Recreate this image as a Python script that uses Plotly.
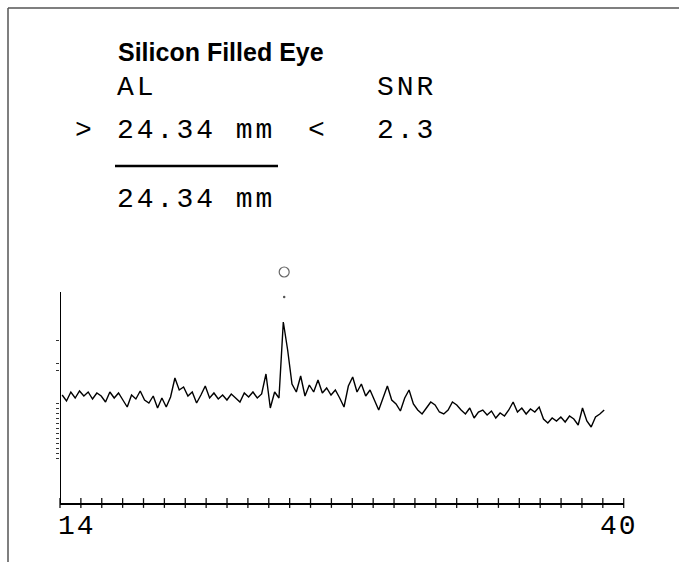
import numpy as np
import plotly.graph_objects as go

# ---------------- data ----------------
X_START = 14.1          # mm, first sample of the A-scan trace
X_STEP = 0.2            # mm, sample spacing
SIGNAL = [108, 102, 111, 105, 112, 107, 111, 104, 110, 107,
          101, 111, 105, 110, 103, 96, 108, 104, 112, 103,
          100, 107, 95, 105, 96, 106, 125, 113, 116, 107,
          111, 100, 108, 117, 105, 110, 104, 108, 103, 109,
          105, 101, 110, 106, 111, 105, 109, 129, 95, 111,
          105, 181, 153, 119, 111, 127, 107, 118, 111, 123,
          110, 115, 108, 113, 105, 96, 117, 126, 111, 119,
          107, 113, 103, 93, 105, 117, 103, 99, 92, 105,
          113, 99, 93, 89, 95, 101, 98, 91, 89, 93,
          101, 98, 93, 89, 95, 85, 91, 93, 88, 92,
          85, 90, 87, 93, 101, 91, 95, 89, 94, 91,
          96, 84, 80, 85, 82, 86, 81, 87, 84, 78,
          95, 82, 76, 86, 89, 93]
X_SAMPLES = np.round(X_START + X_STEP * np.arange(len(SIGNAL)), 2)

X_MIN, X_MAX = 14, 40          # axis range (mm)
Y_MIN, Y_AXIS_TOP = 0, 211     # amplitude axis extent
Y_VIEW_TOP = 245               # room above the axis for the peak marker
X_TICK_COUNT = 28              # printed tick marks along the mm axis
X_TICKS = np.linspace(X_MIN, X_MAX, X_TICK_COUNT)
X_TICK_LABELS = ["14", "40"]
Y_TICKS = [45, 50, 55, 60, 65, 70, 75, 80, 85, 90, 95, 100, 133, 140, 163]

PEAK_AL = [24.34]              # detected axial length peak marker
PEAK_MARK_Y = [231]
PEAK_DOT_Y = [206]

TITLE = "Silicon Filled Eye"
LBL_AL, LBL_SNR = "AL", "SNR"
AL_VALUE, SNR_VALUE = "24.34 mm", "2.3"
AL_RESULT = "24.34 mm"

# ---------------- figure ----------------
W, H = 679, 562
def px(x):
    return x / W
def py(y):
    return 1 - y / H

MONO = "Liberation Mono"
def spaced(t, s=3):
    return f'<span style="letter-spacing:{s}px">{t}</span>'

fig = go.Figure()

fig.add_trace(go.Scatter(
    x=X_SAMPLES, y=SIGNAL, mode="lines",
    line=dict(color="#000000", width=1.4),
    hoverinfo="skip", showlegend=False))

# tick marks crossing the mm axis
fig.add_trace(go.Scatter(
    x=X_TICKS, y=[Y_MIN] * len(X_TICKS), mode="markers",
    marker=dict(symbol="line-ns", size=7, color="#111111",
                line=dict(color="#111111", width=1.3)),
    cliponaxis=False, hoverinfo="skip", showlegend=False))

# peak marker (circle + dot)
fig.add_trace(go.Scatter(
    x=PEAK_AL, y=PEAK_MARK_Y, mode="markers",
    marker=dict(symbol="circle-open", size=10, color="#666666",
                line=dict(color="#666666", width=1.2)),
    cliponaxis=False, hoverinfo="skip", showlegend=False))
fig.add_trace(go.Scatter(
    x=PEAK_AL, y=PEAK_DOT_Y, mode="markers",
    marker=dict(symbol="circle", size=2.5, color="#555555"),
    cliponaxis=False, hoverinfo="skip", showlegend=False))

y_px_per_unit = (503 - 292) / (Y_AXIS_TOP - Y_MIN)
y_view_top_px = 503 - (Y_VIEW_TOP - Y_MIN) * y_px_per_unit

fig.update_layout(
    width=W, height=H,
    margin=dict(l=0, r=0, t=0, b=0),
    paper_bgcolor="white", plot_bgcolor="white",
    xaxis=dict(domain=[px(60), px(623.7)], range=[X_MIN, X_MAX],
               showline=True, linecolor="#000000", linewidth=1.5,
               showgrid=False, zeroline=False, showticklabels=False,
               ticks=""),
    yaxis=dict(domain=[py(503), py(y_view_top_px)], range=[Y_MIN, Y_VIEW_TOP],
               showline=False, showgrid=False, zeroline=False,
               showticklabels=False,
               tickmode="array", tickvals=Y_TICKS, ticks="outside",
               ticklen=3, tickwidth=1, tickcolor="#333333"),
    showlegend=False,
)

# vertical amplitude axis line (ends at the top of the printed scale)
fig.add_shape(type="line", xref="x", yref="y",
              x0=X_MIN, x1=X_MIN, y0=Y_MIN, y1=Y_AXIS_TOP,
              line=dict(color="#000000", width=2))

ann = []
# x tick labels
ann.append(dict(x=X_MIN, y=Y_MIN, xref="x", yref="y", text=spaced(X_TICK_LABELS[0], 2),
                xanchor="left", yanchor="middle", xshift=-4, yshift=-23,
                showarrow=False, font=dict(family=MONO, size=28, color="#000")))
ann.append(dict(x=X_MAX, y=Y_MIN, xref="x", yref="y", text=spaced(X_TICK_LABELS[1], 2),
                xanchor="center", yanchor="middle", xshift=-5, yshift=-23,
                showarrow=False, font=dict(family=MONO, size=28, color="#000")))

# header text
ann.append(dict(x=px(116), y=py(52), xref="paper", yref="paper", text=TITLE,
                xanchor="left", yanchor="middle", showarrow=False,
                font=dict(family="Liberation Sans", size=25, color="#000",
                          weight="bold")))
def mono(text, x, y, anchor="left"):
    ann.append(dict(x=px(x), y=py(y), xref="paper", yref="paper",
                    text=spaced(text), xanchor=anchor, yanchor="middle",
                    showarrow=False,
                    font=dict(family=MONO, size=28, color="#000")))
mono(LBL_AL, 115, 88)
mono(LBL_SNR, 375, 88)
mono(">", 73, 130)
mono(AL_VALUE, 115, 130)
mono("<", 306, 130)
mono(SNR_VALUE, 375, 130)
mono(AL_RESULT, 115, 200)
fig.update_layout(annotations=ann)

# rule under the measured value and page frame
fig.add_shape(type="line", xref="paper", yref="paper",
              x0=px(115), x1=px(278), y0=py(166), y1=py(166),
              line=dict(color="#000000", width=2.5))
fig.add_shape(type="line", xref="paper", yref="paper",
              x0=px(8), x1=1, y0=py(8), y1=py(8),
              line=dict(color="#555555", width=1.5))
fig.add_shape(type="line", xref="paper", yref="paper",
              x0=px(8), x1=px(8), y0=py(8), y1=0,
              line=dict(color="#555555", width=1.5))

fig.write_html(
    "out.html",
    config={"displayModeBar": False},
    post_script="document.body.style.margin='0';"
                "document.documentElement.style.overflow='hidden';",
)
